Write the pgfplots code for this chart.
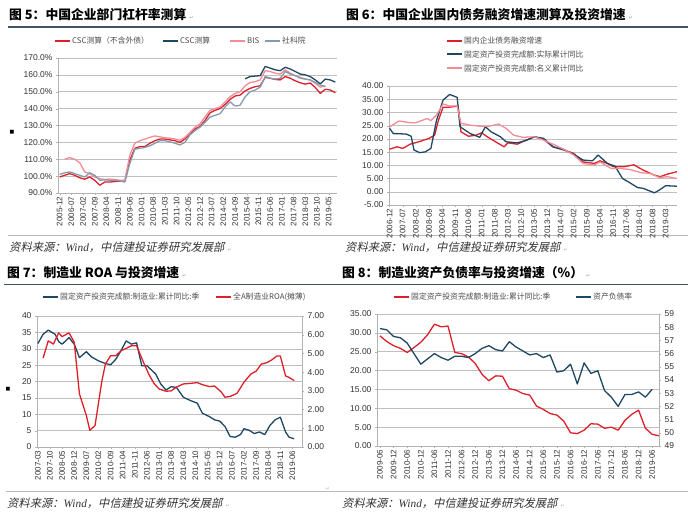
\documentclass[border=0pt]{standalone}
\usepackage{fontspec}
\setmainfont{Liberation Sans}
\newfontfamily\cjk{Noto Sans CJK SC}
\newfontfamily\cjkit[FakeSlant=0.22]{Noto Sans CJK SC}
\newfontfamily\lserif{Liberation Serif}
\newfontfamily\dv{DejaVu Sans}
\usepackage{pgfplots}
\pgfplotsset{compat=1.18}

\definecolor{cred}{RGB}{222,32,42}
\definecolor{cdark}{RGB}{30,72,98}
\definecolor{cpink}{RGB}{242,140,150}
\definecolor{cgrey}{RGB}{132,155,175}
\definecolor{rulec}{RGB}{62,84,96}

\newcommand\tf{\cjk\bfseries\fontsize{12.8}{13}\selectfont}
\newcommand\srcfont{\cjkit\fontsize{11.3}{11.3}\selectfont\color{black!80}}
\newcommand\legfont{\cjk\fontsize{7.8}{8}\selectfont\color{black!70}}
\newcommand\pmark{\hspace{3pt}{\dv\fontsize{5}{5}\selectfont\color{gray!60}↵}}
\newcommand\src{\srcfont 资料来源：{\lserif\itshape Wind}，中信建投证券研究发展部\pmark}
\newcommand\leg[4]{\draw[#1, line width=2pt] (#2,#3) -- ++(15pt,0pt);
  \node[anchor=west, inner sep=0pt, font=\legfont] at ([xshift=17pt]#2,#3) {#4};}

\pgfplotsset{
  panel/.style={scale only axis, anchor=south west,
    axis x line*=bottom, axis y line*=left,
    axis line style={draw=gray!60,-},
    ymajorgrids, grid style={draw=gray!50,line width=0.5pt},
    tick align=outside, major tick length=2pt, tick style={draw=gray!60},
    xticklabel style={rotate=90,anchor=east,font=\fontsize{8}{8}\selectfont,inner sep=1.5pt,text=black!80},
    yticklabel style={font=\fontsize{8.5}{9}\selectfont,text=black!80},
    /pgf/number format/assume math mode=true,
    every axis plot/.append style={line width=1.3pt, line join=round, mark=none},
  },
  panelR/.style={scale only axis, anchor=south west,
    axis x line=none, axis y line*=right, xtick=\empty,
    axis line style={draw=gray!60,-},
    tick align=outside, major tick length=2pt, tick style={draw=gray!60},
    yticklabel style={font=\fontsize{8.5}{9}\selectfont,text=black!80},
    /pgf/number format/assume math mode=true,
    every axis plot/.append style={line width=1.3pt, line join=round, mark=none},
  },
}

\begin{document}
\begin{tikzpicture}
\useasboundingbox (0pt,0pt) rectangle (688pt,528pt);
\fill[white] (0pt,0pt) rectangle (688pt,528pt);

% rules
\draw[rulec, line width=1.5pt] (8pt,501pt) -- (688pt,501pt);
\draw[gray!55, line width=0.8pt] (8pt,293pt) -- (688pt,293pt);
\draw[rulec, line width=1.5pt] (4pt,243.5pt) -- (688pt,243.5pt);
\draw[gray!55, line width=0.8pt] (6pt,36.5pt) -- (688pt,36.5pt);

% titles
\node[anchor=west, inner sep=0pt] at (9pt,513pt) {\tf 图 5：中国企业部门杠杆率测算\pmark};
\node[anchor=west, inner sep=0pt] at (346pt,513pt) {\tf 图 6：中国企业国内债务融资增速测算及投资增速\pmark};
\node[anchor=west, inner sep=0pt] at (7pt,255pt) {\tf 图 7：制造业 ROA 与投资增速\pmark};
\node[anchor=west, inner sep=0pt] at (342pt,255pt) {\tf 图 8：制造业资产负债率与投资增速（\%）\pmark};

% sources
\node[anchor=west, inner sep=0pt] at (9pt,281pt) {\src};
\node[anchor=west, inner sep=0pt] at (345pt,281pt) {\src};
\node[anchor=west, inner sep=0pt] at (7pt,25pt) {\src};
\node[anchor=west, inner sep=0pt] at (342pt,25pt) {\src};

% stray marks
\node[inner sep=0pt] at (12pt,396pt) {\dv\fontsize{5}{5}\selectfont ■};
\node[inner sep=0pt] at (8pt,139pt) {\dv\fontsize{5}{5}\selectfont ■};
\node[inner sep=0pt] at (328pt,39pt) {\dv\fontsize{5}{5}\selectfont\color{gray!60}↵};

% legends
\leg{cred}{55pt}{487pt}{CSC测算（不含外债）}
\leg{cdark}{163pt}{487pt}{CSC测算}
\leg{cpink}{230pt}{487pt}{BIS}
\leg{cgrey}{265pt}{487pt}{社科院}

\leg{cred}{447pt}{487pt}{国内企业债务融资增速}
\leg{cdark}{447pt}{473.5pt}{固定资产投资完成额:实际累计同比}
\leg{cpink}{447pt}{459.5pt}{固定资产投资完成额:名义累计同比}

\leg{cdark}{43pt}{231pt}{固定资产投资完成额:制造业:累计同比:季}
\leg{cred}{216pt}{231pt}{全A制造业ROA(摊薄)}

\leg{cred}{394pt}{231pt}{固定资产投资完成额:制造业:累计同比:季}
\leg{cdark}{576pt}{231pt}{资产负债率}

% ---------- Chart 5 ----------
\begin{axis}[panel, at={(58pt,335pt)}, width=279pt, height=135pt,
  xmin=-1, xmax=166, ymin=90, ymax=170, ytick={90,100,...,170},
  yticklabel={\pgfmathprintnumber[fixed,fixed zerofill,precision=1]{\tick}\%},
  xtick={0,7,...,161},
  xticklabels={2005-12,2006-07,2007-02,2007-09,2008-04,2008-11,2009-06,2010-01,2010-08,2011-03,2011-10,2012-05,2012-12,2013-07,2014-02,2014-09,2015-04,2015-11,2016-06,2017-01,2017-08,2018-03,2018-10,2019-05}]
\addplot[cred] coordinates {(0,99.5)(3,100.5)(6,101.5)(9,100.5)(12,99)(15,98.2)(18,99.5)(21,97.5)(24,94.6)(27,96.5)(30,96.5)(33,96.8)(36,97)(39,96.8)(42,109.5)(45,116.5)(48,117.5)(51,117.5)(54,119.5)(57,121)(60,122)(63,122)(66,121.5)(69,121)(72,120)(75,122)(78,125)(81,128)(84,129.5)(87,133)(90,137.5)(93,139)(96,140)(99,142.5)(102,145.5)(105,147.5)(108,148)(111,150.5)(114,152)(117,153)(120,153.5)(123,158.5)(126,158)(129,157.3)(132,157)(135,159)(138,158)(141,156.5)(144,155.3)(147,154.5)(150,155.2)(153,152.5)(156,149)(159,151.5)(162,151)(165,149.5)};
\addplot[cdark] coordinates {(111,157.7)(114,159)(117,159.3)(120,159.5)(123,165)(126,164)(129,163)(132,162.5)(135,164.5)(138,163.5)(141,162)(144,160.5)(147,160)(150,159)(153,157)(156,154.7)(159,157.5)(162,157)(165,155.7)};
\addplot[cpink] coordinates {(3,110)(6,111)(9,110)(12,108)(15,102.5)(18,101.5)(21,99.5)(24,98.5)(27,98)(30,98.3)(33,98)(36,97.5)(39,97.5)(42,112.5)(45,119.5)(48,121)(51,122)(54,123)(57,123.8)(60,123.3)(63,122.7)(66,122.5)(69,122)(72,121.3)(75,123)(78,126)(81,129)(84,131)(87,135)(90,139)(93,140)(96,141)(99,144)(102,147)(105,149)(108,150)(111,153.5)(114,155.5)(117,156)(120,157)(123,162.5)(126,162)(129,161)(132,160.5)(135,163)(138,161)(141,159.5)(144,158.5)(147,157.5)(150,157)(153,155)(156,152.7)(159,153.5)};
\addplot[cgrey] coordinates {(0,101)(3,102)(6,102.5)(9,101.5)(12,100.5)(15,99.5)(18,102)(21,100.5)(24,97.5)(27,97.8)(30,97.5)(33,97.5)(36,97.2)(39,96.5)(42,107.5)(45,116)(48,116.5)(51,117)(54,118)(57,119.5)(60,121)(63,121)(66,120.3)(69,119.5)(72,118.5)(75,120)(78,124.5)(81,127)(84,129)(87,132)(90,135)(93,136)(96,137)(99,141)(102,144)(105,141.5)(108,142)(111,147)(114,150)(117,151)(120,152.7)(123,159)(126,158)(129,157.5)(132,158)(135,162)(138,160.5)(141,159.5)(144,158)(147,157.5)(150,157)(153,155.5)(156,154)(159,153)};
\end{axis}

% ---------- Chart 6 ----------
\begin{axis}[panel, at={(389pt,323pt)}, width=288pt, height=119pt,
  xmin=-0.3, xmax=153, ymin=-5, ymax=40, ytick={-5,0,...,40},
  yticklabel={\pgfmathprintnumber[fixed,fixed zerofill,precision=2]{\tick}},
  xtick={0,7,...,147},
  xticklabels={2006-12,2007-07,2008-02,2008-09,2009-04,2009-11,2010-06,2011-01,2011-08,2012-03,2012-10,2013-05,2013-12,2014-07,2015-02,2015-09,2016-04,2016-11,2017-06,2018-01,2018-08,2019-03}]
\addplot[cred] coordinates {(0,16.1)(4,17)(7,16.4)(11,18)(16,19)(21,20.2)(24,21.4)(26,27)(28.5,32)(32,32)(36.5,32.4)(38,22.7)(42,21)(46,21.4)(49,22.3)(52,20.8)(55,19.5)(61,17)(63,18.5)(68,18)(71,19)(77,20.8)(82,19.8)(87,17)(93,15.8)(98,14.5)(103,11.3)(109,10.7)(112,11.7)(116,10.7)(119,9.5)(125,9.5)(130,10.2)(135,8.2)(141,6.3)(144,5.7)(148,6.7)(153,7.6)};
\addplot[cdark] coordinates {(0,24)(2,22)(4,22)(9,21.8)(11.5,21)(13,15.8)(16,14.8)(19,15.1)(22,16.4)(25,27)(28.5,34.7)(32,36.8)(36,35.7)(37.5,24.6)(43,22)(48,20.6)(51,24.6)(54,22.7)(59,20.8)(62,18.9)(68,18.5)(73,19.5)(77,20.8)(82,20.2)(87,17)(93,15.8)(98,14.2)(103,12)(108,11.7)(111,13.9)(116,10.7)(120,9.7)(124,5)(127,3.8)(132,1.6)(135,1.3)(141,-0.4)(143.5,0.6)(147,2.3)(153,2.1)};
\addplot[cpink] coordinates {(0,24.5)(5,26.8)(11,26.1)(14,26.1)(20,27.7)(22,26.9)(25,29)(28.5,33.2)(32,32.4)(36,32.4)(38,25.9)(43,25.2)(48,24.8)(53,24.8)(58,25.6)(62,24)(66,21.4)(71,20.6)(77,20.8)(82,19.5)(87,18)(93,16)(98,13.9)(103,10.7)(109,10.1)(112,11.3)(118,8.8)(123,8.8)(128,8.4)(134,7.2)(139,6.9)(143.5,5.4)(148,5.7)(153,5)};
\end{axis}

% ---------- Chart 7 ----------
\begin{axis}[panel, at={(37pt,81pt)}, width=265pt, height=131pt,
  xmin=-0.5, xmax=152.5, ymin=0, ymax=40, ytick={0,5,...,40},
  xtick={0,7,...,147},
  xticklabels={2007-03,2007-10,2008-05,2008-12,2009-07,2010-02,2010-09,2011-04,2011-11,2012-06,2013-01,2013-08,2014-03,2014-10,2015-05,2015-12,2016-07,2017-02,2017-09,2018-04,2018-11,2019-06}]
\addplot[cdark] coordinates {(0,31.6)(3,34.4)(6,35.7)(10,34.4)(12,32.2)(14,31.4)(18,33.4)(21,31.4)(24,27.3)(28,29.1)(31,27.5)(35,26.3)(39,25.5)(42,25.1)(45,26.8)(48,29.4)(51,32.4)(54,31.4)(57,31.8)(60,24.8)(63,24.8)(65,23.8)(68,22.3)(71,19.2)(74,17.4)(77,18.4)(80,18.2)(84,15.2)(88,14.2)(92,13.4)(95,10.3)(99,9.3)(102,8.3)(105,7.9)(108,6.3)(111,3.2)(114,3.0)(117,3.8)(119,5.6)(122,5.1)(125,4.1)(128,4.6)(131,3.8)(134,6.6)(137,8.3)(140,9.1)(143,4.6)(145,3.0)(148,2.5)};
\end{axis}
\begin{axis}[panelR, at={(37pt,81pt)}, width=265pt, height=131pt,
  xmin=-0.5, xmax=152.5, ymin=0, ymax=7, ytick={0,1,...,7},
  yticklabel={\pgfmathprintnumber[fixed,fixed zerofill,precision=2]{\tick}}]
\addplot[cred] coordinates {(3,4.75)(6,5.67)(9,5.5)(12,6.1)(14,5.9)(18,6.1)(21,5.6)(24,2.84)(28,1.68)(30,0.89)(33,1.15)(37,3.55)(39,4.43)(42,4.88)(45,4.88)(48,5.14)(51,5.27)(54,5.41)(57,5.41)(61,4.52)(64,3.9)(67,3.4)(70,3.1)(74,2.98)(77,3.0)(80,3.2)(84,3.37)(88,3.4)(92,3.44)(95,3.33)(99,3.23)(102,3.26)(106,2.93)(108,2.66)(111,2.7)(115,2.87)(119,3.46)(123,3.9)(126,4.05)(129,4.43)(132,4.5)(135,4.65)(138,4.86)(140,4.86)(143,3.8)(145,3.72)(148,3.55)};
\end{axis}

% ---------- Chart 8 ----------
\begin{axis}[panel, at={(377pt,82pt)}, width=282pt, height=132pt,
  xmin=-1.3, xmax=123, ymin=0, ymax=35, ytick={0,5,...,35},
  yticklabel={\pgfmathprintnumber[fixed,fixed zerofill,precision=2]{\tick}},
  xtick={0,6,...,120},
  xticklabels={2009-06,2009-12,2010-06,2010-12,2011-06,2011-12,2012-06,2012-12,2013-06,2013-12,2014-06,2014-12,2015-06,2015-12,2016-06,2016-12,2017-06,2017-12,2018-06,2018-12,2019-06}]
\addplot[cred] coordinates {(0,29.2)(3,27.7)(6,26.6)(9,25.9)(12,24.8)(15,26.1)(18,27.5)(21,29.5)(24,32.3)(27,31.6)(30,31.8)(33,24.8)(36,24.5)(39,23.6)(42,21.9)(45,19.0)(48,17.3)(51,18.6)(54,18.5)(57,15.2)(60,14.8)(63,13.9)(66,13.5)(69,10.6)(72,9.7)(75,8.6)(78,8.2)(81,6.6)(84,3.5)(87,3.3)(90,4.2)(93,5.9)(96,5.8)(99,4.7)(102,5.0)(105,4.2)(108,6.8)(111,8.4)(114,9.5)(117,4.7)(120,3.1)(123,2.7)};
\end{axis}
\begin{axis}[panelR, at={(377pt,82pt)}, width=282pt, height=132pt,
  xmin=-1.3, xmax=123, ymin=49, ymax=59, ytick={49,50,...,59}]
\addplot[cdark] coordinates {(0,57.9)(3,57.8)(6,57.3)(9,57.2)(12,56.8)(15,56.0)(18,55.2)(21,55.6)(24,56.0)(27,55.7)(30,55.5)(33,55.8)(36,55.8)(39,55.7)(42,56.0)(45,56.4)(48,56.6)(51,56.3)(54,56.2)(57,56.9)(60,56.5)(63,56.2)(66,55.9)(69,56.0)(72,55.7)(75,55.9)(78,54.6)(81,54.7)(84,55.2)(87,53.7)(90,55.3)(93,54.5)(96,54.7)(99,53.2)(102,52.7)(105,52.0)(108,52.9)(111,52.9)(114,53.1)(117,52.7)(120,53.3)};
\end{axis}
\end{tikzpicture}
\end{document}
